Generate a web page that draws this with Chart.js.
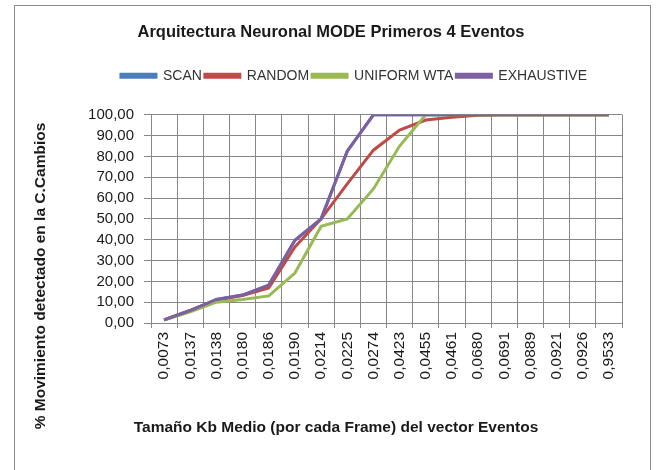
<!DOCTYPE html>
<html>
<head>
<meta charset="utf-8">
<script src="https://cdn.jsdelivr.net/npm/chart.js@4/dist/chart.umd.min.js"></script>
<style>
    html, body { margin: 0; padding: 0; background: #fff; overflow: hidden; }
    #wrap { position: relative; width: 662px; height: 470px; }
    #frame { position: absolute; left: 14px; top: 5px; width: 637px; height: 520px; border: 1px solid #8a8a8a; box-sizing: border-box; }
    canvas { position: absolute; left: 0; top: 0; }
</style>
</head>
<body>
<div id="wrap">
    <div id="frame"></div>
    <canvas id="myChart" width="662" height="470"></canvas>
</div>
<script>
const categories = ['0,0073', '0,0137', '0,0138', '0,0180', '0,0186', '0,0190', '0,0214', '0,0225', '0,0274',
    '0,0423', '0,0455', '0,0461', '0,0680', '0,0691', '0,0889', '0,0921', '0,0926', '0,9533'];

// SCAN queda oculta bajo EXHAUSTIVE
const scanValues = [1.5, 6, 11.3, 13.4, 18.2, 39.7, 50, 82.5, 100, 100, 100, 100, 100, 100, 100, 100, 100, 100];
const randomValues = [1.5, 6, 11, 13.2, 16.8, 36.5, 50, 66.8, 83, 92.7, 97.5, 98.8, 99.8, 100, 100, 100, 100, 100];
const uniformValues = [1.4, 5.4, 10, 11.3, 13, 24, 46.4, 50, 64.4, 85, 100, 100, 100, 100, 100, 100, 100, 100];
const exhaustiveValues = [1.5, 6, 11.3, 13.4, 18.2, 39.7, 50, 82.5, 100, 100, 100, 100, 100, 100, 100, 100, 100, 100];

const yTicks = [0, 10, 20, 30, 40, 50, 60, 70, 80, 90, 100];

const titleText = 'Arquitectura Neuronal MODE Primeros 4 Eventos';
const xTitleText = 'Tamaño Kb Medio (por cada Frame) del vector Eventos';
const yTitleText = '% Movimiento detectado en la C.Cambios';

const gridColor = '#878787';
const textColor = '#1a1a1a';
const fontName = '"Liberation Sans", Arial, sans-serif';

// order: el ultimo de Excel queda encima
function makeDataset(label, values, color, order) {
    return {
        label: label,
        data: values,
        borderColor: color,
        backgroundColor: color,
        borderWidth: 3,
        pointRadius: 0,
        tension: 0,
        order: order
    };
}

// titulos de los ejes, colocados como en la hoja original
const axisTitlesPlugin = {
    id: 'axisTitles',
    afterDraw(chart) {
        const ctx = chart.ctx;
        ctx.save();
        ctx.font = 'bold 15.5px ' + fontName;
        ctx.fillStyle = textColor;
        ctx.textAlign = 'center';
        ctx.textBaseline = 'middle';
        ctx.fillText(xTitleText, 336, 428);
        ctx.translate(41, 276);
        ctx.rotate(-Math.PI / 2);
        ctx.fillText(yTitleText, 0, 0);
        ctx.restore();
    }
};

// mas espacio bajo la leyenda y desplazamiento horizontal de titulo y leyenda
const blocksPlugin = {
    id: 'blocks',
    beforeLayout(chart) {
        const lg = chart.legend;
        if (lg && !lg._patched) {
            const fit = lg.fit;
            lg.fit = function () {
                fit.call(this);
                this.height += 22;
            };
            lg._patched = true;
        }
    },
    afterLayout(chart) {
        chart.legend.left += 43;
        chart.legend.right += 43;
        chart.titleBlock.left += 20;
        chart.titleBlock.right += 20;
    }
};

const config = {
    type: 'line',
    data: {
        labels: categories,
        datasets: [
            makeDataset('SCAN', scanValues, '#4a7ebb', 4),
            makeDataset('RANDOM', randomValues, '#be4b48', 3),
            makeDataset('UNIFORM WTA', uniformValues, '#98b954', 2),
            makeDataset('EXHAUSTIVE', exhaustiveValues, '#7d60a0', 1)
        ]
    },
    options: {
        responsive: false,
        animation: false,
        layout: { padding: { left: 0, right: 40, top: 0, bottom: 0 } },
        plugins: {
            title: {
                display: true,
                text: titleText,
                color: textColor,
                font: { family: fontName, size: 16.5, weight: 'bold' },
                padding: { top: 23, bottom: 23 }
            },
            legend: {
                display: true,
                labels: {
                    color: '#333',
                    font: { family: fontName, size: 14 },
                    boxWidth: 35,
                    boxHeight: 3,
                    padding: 3,
                    sort: (a, b) => a.datasetIndex - b.datasetIndex
                }
            },
            tooltip: { enabled: false }
        },
        scales: {
            x: {
                offset: true,
                grid: { offset: true, color: gridColor, tickLength: 5 },
                border: { color: gridColor },
                ticks: {
                    color: textColor,
                    font: { family: fontName, size: 15.5 },
                    minRotation: 90,
                    maxRotation: 90,
                    autoSkip: false,
                    padding: 4
                },
                afterFit(scale) { scale.height = 147; }
            },
            y: {
                min: 0,
                max: 100,
                afterBuildTicks(scale) { scale.ticks = yTicks.map(v => ({ value: v })); },
                grid: { color: gridColor, tickLength: 7 },
                border: { color: gridColor },
                ticks: {
                    color: textColor,
                    font: { family: fontName, size: 15 },
                    padding: 10,
                    autoSkip: false,
                    callback: v => v.toFixed(2).replace('.', ',')
                },
                afterFit(scale) { scale.width = 151; }
            }
        }
    },
    plugins: [axisTitlesPlugin, blocksPlugin]
};

window.onload = function () {
    new Chart(document.getElementById('myChart'), config);
};
</script>
</body>
</html>
